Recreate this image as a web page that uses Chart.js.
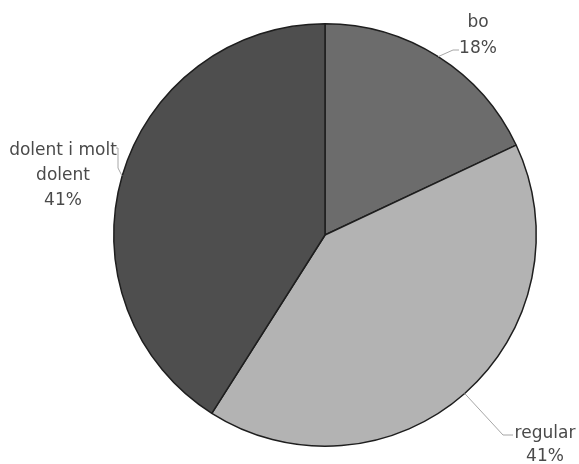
<!DOCTYPE html>
<html>
<head>
<meta charset="utf-8">
<script src="https://cdn.jsdelivr.net/npm/chart.js@4/dist/chart.umd.min.js"></script>
<style>
html,body{margin:0;padding:0;background:#fff;}
#wrap{width:579px;height:464px;position:relative;}
</style>
</head>
<body>
<div id="wrap"><canvas id="c" width="579" height="464"></canvas></div>
<script>
const categories = ["bo", "regular", "dolent i molt dolent"];
const values = [18, 41, 41];
const labelLines = [["bo", "18%"], ["regular", "41%"], ["dolent i molt", "dolent", "41%"]];
const colors = ["#6c6c6c", "#b3b3b3", "#4e4e4e"];

// label layout (text centre x, first baseline y, leader path from computed anchor)
const labelLayout = [
  { cx: 478, by: 27, step: 26, leader: (a) => [[a.x, a.y], [453, 50], [459, 50]] },
  { cx: 545, by: 438, step: 23, leader: (a) => [[a.x, a.y], [503, 435], [513, 435]] },
  { cx: 63, by: 155, step: 25, leader: (a) => [[a.x, a.y], [118, 168], [118, 148], [116, 148]] }
];

const labelPlugin = {
  id: 'pieLabels',
  afterDatasetsDraw(chart) {
    const ctx = chart.ctx;
    const meta = chart.getDatasetMeta(0);
    ctx.save();
    meta.data.forEach((arc, i) => {
      const p = arc.getProps(['x', 'y', 'startAngle', 'endAngle', 'outerRadius'], true);
      const mid = (p.startAngle + p.endAngle) / 2;
      const anchor = { x: p.x + Math.cos(mid) * p.outerRadius, y: p.y + Math.sin(mid) * p.outerRadius };
      const lay = labelLayout[i];
      const pts = lay.leader(anchor);
      ctx.strokeStyle = '#a6a6a6';
      ctx.lineWidth = 1;
      ctx.beginPath();
      pts.forEach((q, k) => { if (k === 0) ctx.moveTo(q[0], q[1]); else ctx.lineTo(q[0], q[1]); });
      ctx.stroke();
      ctx.fillStyle = '#4a4a4a';
      ctx.font = '17px "DejaVu Sans"';
      ctx.textAlign = 'center';
      ctx.textBaseline = 'alphabetic';
      labelLines[i].forEach((t, k) => ctx.fillText(t, lay.cx, lay.by + k * lay.step));
    });
    ctx.restore();
  }
};

new Chart(document.getElementById('c'), {
  type: 'pie',
  data: {
    labels: categories,
    datasets: [{
      data: values,
      backgroundColor: colors,
      borderColor: '#1e1e1e',
      borderWidth: 1.5
    }]
  },
  options: {
    responsive: false,
    animation: false,
    layout: { padding: { left: 113, right: 42, top: 23, bottom: 17 } },
    plugins: { legend: { display: false }, tooltip: { enabled: false } }
  },
  plugins: [labelPlugin]
});
</script>
</body>
</html>
